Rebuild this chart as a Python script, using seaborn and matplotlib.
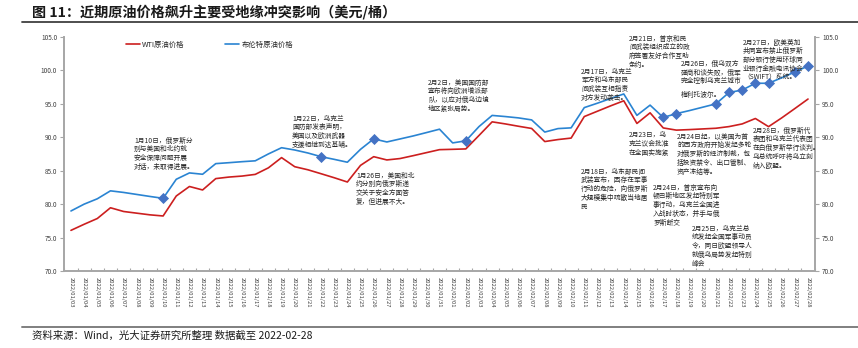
import numpy as np
import pandas as pd
import matplotlib
matplotlib.use("Agg")
import matplotlib.pyplot as plt
import matplotlib.dates as mdates
from matplotlib.lines import Line2D
import seaborn as sns

# ---------------- data ----------------
dates = pd.date_range("2022-01-03", "2022-02-28", freq="D")

wti = [76.08, 76.99, 77.85, 79.46, 78.90, 78.65, 78.40, 78.23, 81.22, 82.64,
       82.12, 83.82, 84.05, 84.20, 84.45, 85.43, 86.96, 85.60, 85.14, 84.55,
       83.95, 83.31, 85.80, 87.10, 86.61, 86.82, 87.25, 87.70, 88.15, 88.20,
       88.26, 90.27, 92.31, 92.00, 91.65, 91.32, 89.36, 89.66, 89.88, 93.10,
       93.90, 94.70, 95.46, 92.07, 93.66, 91.40, 91.07, 91.15, 91.25, 91.35,
       91.60, 92.00, 92.81, 91.59, 92.90, 94.30, 95.72]

brent = [78.98, 80.00, 80.80, 81.99, 81.75, 81.45, 81.15, 80.87, 83.72, 84.67,
         84.47, 86.06, 86.20, 86.35, 86.48, 87.51, 88.44, 88.10, 87.65, 87.10,
         86.70, 86.27, 88.20, 89.76, 89.30, 89.75, 90.20, 90.70, 91.21, 89.16,
         89.47, 91.60, 93.27, 93.10, 92.90, 92.60, 90.78, 91.30, 91.41, 94.44,
         95.10, 95.80, 96.48, 93.28, 94.81, 92.97, 93.54, 94.00, 94.50, 95.00,
         96.70, 97.07, 98.08, 98.08, 98.90, 99.77, 100.66]

series_names = ["WTI原油价格", "布伦特原油价格"]

event_dates = ["2022-01-10", "2022-01-22", "2022-01-26", "2022-02-02",
               "2022-02-17", "2022-02-18", "2022-02-21", "2022-02-22",
               "2022-02-23", "2022-02-24", "2022-02-25", "2022-02-27",
               "2022-02-28"]

y_ticks = [70, 75, 80, 85, 90, 95, 100, 105]

title = "图 11：近期原油价格飙升主要受地缘冲突影响（美元/桶）"
source = "资料来源：Wind，光大证券研究所整理 数据截至 2022-02-28"

# annotations: (x_px, first line center y_px, text)
notes = [
    (134, 141, "1月10日，俄罗斯分\n别与美国和北约就\n安全保障问题开展\n对话，未取得进展。"),
    (292, 119, "1月22日，乌克兰\n国防部发表声明，\n美国以及欧洲武器\n支援相继到达基辅。"),
    (356, 176, "1月26日，美国和北\n约分别向俄罗斯递\n交关于安全方面答\n复，但进展不大。"),
    (428, 83, "2月2日，美国国防部\n宣布将向欧洲增派部\n队，以应对俄乌边境\n地区紧张局势。"),
    (581, 72, "2月17日，乌克兰\n军方和乌东部民\n间武装互相指责\n对方发动袭击。"),
    (629, 39, "2月21日，普京和民\n间武装组织成立的政\n府签署友好合作互助\n条约。"),
    (681, 64, "2月26日，俄乌双方\n磋商和谈失败，俄军\n完全控制乌克兰城市"),
    (681, 95, "梅利托波尔。"),
    (743, 43, "2月27日，欧美英加\n共同宣布禁止俄罗斯\n部分银行使用环球同\n业银行金融电讯协会\n（SWIFT）系统。"),
    (629, 136, "2月23日，乌\n克兰议会批准\n在全国实施紧"),
    (677, 137, "2月24日起，以美国为首\n的西方政府开始发起多轮\n对俄罗斯的经济制裁，包\n括投资禁令、出口管制、\n资产冻结等。"),
    (753, 131, "2月28日，俄罗斯代\n表团和乌克兰代表团\n在白俄罗斯举行谈判。\n乌总统呼吁将乌立刻\n纳入欧盟。"),
    (581, 172, "2月18日，乌东部民间\n武装宣布，因存在军事\n行动的危险，向俄罗斯\n大规模集中疏散当地居\n民"),
    (653, 188, "2月24日，普京宣布向\n顿巴斯地区发起特别军\n事行动，乌克兰全国进\n入战时状态，并手与俄\n罗斯断交"),
    (692, 229, "2月25日，乌克兰总\n统发起全国军事动员\n令，同日欧盟领导人\n就俄乌局势发起特别\n峰会"),
]

# ---------------- style ----------------
sns.set_theme(style="white")
plt.rcParams["font.family"] = ["Noto Sans CJK SC", "DejaVu Sans"]
plt.rcParams["axes.unicode_minus"] = False

W, H = 858, 348
fig = plt.figure(figsize=(W / 100, H / 100), dpi=100)
fig.patch.set_facecolor("white")

ax = fig.add_axes([64 / W, 1 - 271 / H, 751 / W, 234 / H])

red = "#CC1F1F"
blue = "#2A84D2"
marker_c = "#4472C4"

df = pd.DataFrame({
    "date": list(dates) * 2,
    "price": wti + brent,
    "series": [series_names[0]] * len(dates) + [series_names[1]] * len(dates),
})
sns.lineplot(data=df, x="date", y="price", hue="series",
             palette={series_names[0]: red, series_names[1]: blue},
             linewidth=1.2, ax=ax)

ev = pd.to_datetime(event_dates)
brent_s = pd.Series(brent, index=dates)
ev_vals = brent_s.loc[ev].values
sns.scatterplot(x=ev, y=ev_vals, marker="D", s=32, color=marker_c,
                edgecolor=marker_c, linewidth=0, zorder=5, ax=ax, legend=False)

# axes limits
x0 = mdates.date2num(dates[0])
x1 = mdates.date2num(dates[-1])
ax.set_xlim(x0 - 0.53, x1 + 0.53)
ax.set_ylim(70, 105)
ax.set_xlabel("")
ax.set_ylabel("")

# x ticks: boundaries (major, small inward ticks), labels at centers (minor)
centers = mdates.date2num(dates)
ax.set_xticks(list(centers - 0.5) + [centers[-1] + 0.5])
ax.set_xticklabels([])
ax.set_xticks(centers, minor=True)
ax.set_xticklabels([d.strftime("%Y/%m/%d") for d in dates], minor=True)
ax.tick_params(axis="x", which="major", direction="in", length=2.5,
               color="#A6A6A6", width=0.8, bottom=True)
ax.tick_params(axis="x", which="minor", length=0, labelsize=4.2,
               labelcolor="#404040", pad=4, labelrotation=270)

ax.set_yticks(y_ticks)
ax.set_yticklabels([f"{v:.1f}" for v in y_ticks])
ax.tick_params(axis="y", direction="out", length=3, color="#A6A6A6",
               width=0.8, labelsize=4.6, labelcolor="#404040", pad=2, left=True)

for s in ["top", "right"]:
    ax.spines[s].set_visible(False)
for s in ["left", "bottom"]:
    ax.spines[s].set_color("#A6A6A6")
    ax.spines[s].set_linewidth(1.4)

ax2 = ax.twinx()
ax2.set_ylim(70, 105)
ax2.set_yticks(y_ticks)
ax2.set_yticklabels([f"{v:.1f}" for v in y_ticks])
ax2.tick_params(axis="y", direction="out", length=3, color="#A6A6A6",
                width=0.8, labelsize=4.6, labelcolor="#404040", pad=2, right=True)
for s in ["top", "left", "bottom"]:
    ax2.spines[s].set_visible(False)
ax2.spines["right"].set_color("#A6A6A6")
ax2.spines["right"].set_linewidth(1.4)
ax2.grid(False)
ax.grid(False)

leg = ax.legend(loc="upper left", bbox_to_anchor=(0.082, 0.985), ncol=2,
                frameon=False, fontsize=5.3, handlelength=1.9,
                handletextpad=0.3, columnspacing=5.6, borderpad=0,
                borderaxespad=0)
for t in leg.get_texts():
    t.set_color("#262626")
for h in leg.get_lines():
    h.set_linewidth(1.2)

# annotations
for xp, yp, txt in notes:
    fig.text(xp / W, 1 - (yp - 4.4) / H, txt, fontsize=4.85, va="top",
             ha="left", color="#262626", linespacing=1.13)

# title & source
fig.text(32 / W, 1 - 13 / H, title, fontsize=10.2, fontweight="bold",
         va="center", ha="left", color="#1a1a1a")
fig.add_artist(Line2D([22 / W, 1.0], [1 - 22.3 / H] * 2, color="#404040", lw=1.3))
fig.add_artist(Line2D([22 / W, 1.0], [1 - 327.3 / H] * 2, color="#7f7f7f", lw=1.4))
fig.text(32 / W, 1 - 336 / H, source, fontsize=7.5, va="center", ha="left",
         color="#1a1a1a")

fig.savefig("out.png", dpi=100, facecolor="white")
